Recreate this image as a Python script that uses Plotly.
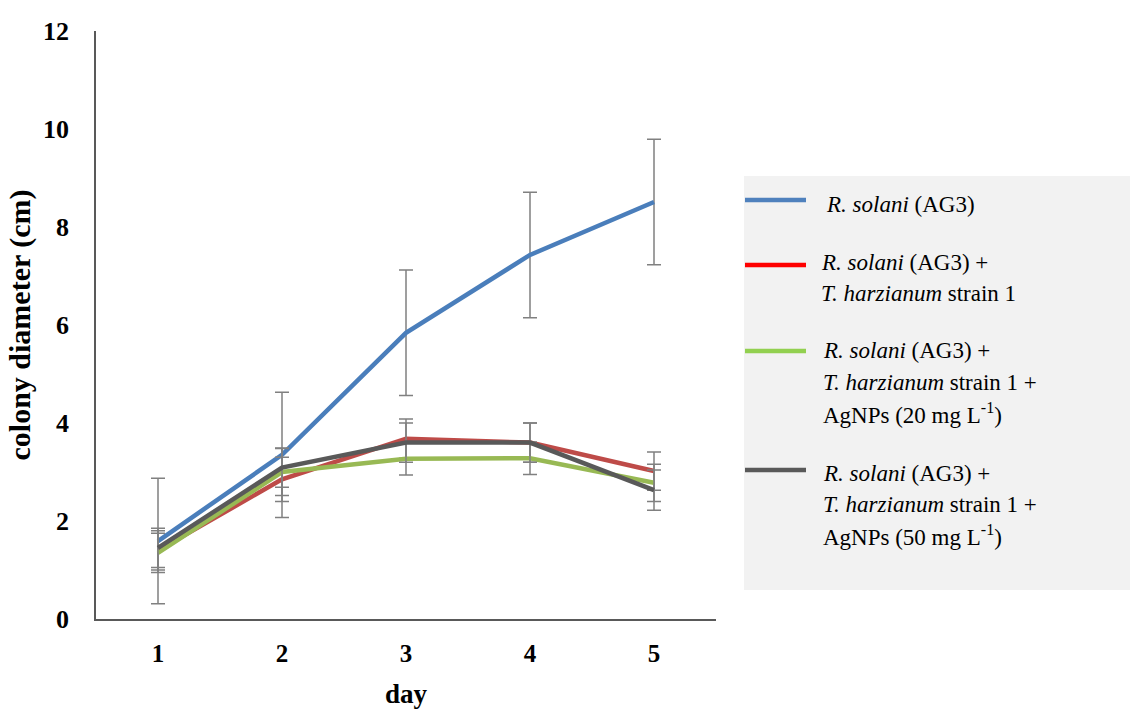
import plotly.graph_objects as go

days = [1, 2, 3, 4, 5]
y_ticks = [0, 2, 4, 6, 8, 10, 12]
rs = [1.59, 3.35, 5.84, 7.43, 8.51]
rs_err = [1.28, 1.28, 1.28, 1.28, 1.28]
rs_th = [1.40, 2.85, 3.68, 3.60, 3.02]
rs_th_err = [0.40, 0.45, 0.40, 0.40, 0.39]
rs_th20 = [1.35, 3.00, 3.27, 3.28, 2.78]
rs_th20_err = [0.40, 0.48, 0.33, 0.33, 0.38]
rs_th50 = [1.45, 3.09, 3.60, 3.60, 2.63]
rs_th50_err = [0.40, 0.40, 0.40, 0.40, 0.41]

plot_colors = ["#4a7ebb", "#be4b48", "#98b954", "#595959"]
legend_colors = ["#4f81bd", "#ff0000", "#92d050", "#595959"]

legend_lines = [
    ["<i>R. solani</i> (AG3)"],
    ["<i>R. solani</i> (AG3) +", "<i>T. harzianum</i> strain 1"],
    ["<i>R. solani</i> (AG3) +", "<i>T. harzianum</i> strain 1 +", "AgNPs (20 mg L<sup>-1</sup>)"],
    ["<i>R. solani</i> (AG3) +", "<i>T. harzianum</i> strain 1 +", "AgNPs (50 mg L<sup>-1</sup>)"],
]

series = [(rs, rs_err), (rs_th, rs_th_err), (rs_th20, rs_th20_err), (rs_th50, rs_th50_err)]

SERIF = "Liberation Serif, Times New Roman, serif"
W, H = 1130, 709
L, R, T, B = 96, 716, 31, 619

def px(x):
    return (x - L) / (R - L)

def py(y):
    return (B - y) / (B - T)

fig = go.Figure()
for (vals, err), col in zip(series, plot_colors):
    fig.add_trace(go.Scatter(
        x=days, y=vals, mode="lines",
        line=dict(color=col, width=4.5),
        error_y=dict(type="data", array=err, visible=True, color="#808080", thickness=1.5, width=7),
        showlegend=False, hoverinfo="skip",
    ))

shapes = [dict(type="rect", xref="paper", yref="paper", x0=px(744), x1=px(1130), y0=py(590), y1=py(176),
               fillcolor="#f2f2f2", line=dict(width=0), layer="below")]
annotations = []
sample_y = [200, 265, 351, 470]
text_y0 = [204, 262, 351, 473]
text_x = [824, 819, 821, 821]
for i in range(4):
    shapes.append(dict(type="line", xref="paper", yref="paper", x0=px(745), x1=px(806),
                       y0=py(sample_y[i]), y1=py(sample_y[i]), line=dict(color=legend_colors[i], width=4.5)))
    for j, t in enumerate(legend_lines[i]):
        annotations.append(dict(xref="paper", yref="paper", x=px(text_x[i]), y=py(text_y0[i] + 31.3 * j),
                                text=t, showarrow=False, xanchor="left", yanchor="middle",
                                font=dict(family=SERIF, size=23, color="#000000")))

fig.update_layout(
    width=W, height=H,
    margin=dict(l=L, r=W - R, t=T, b=H - B, autoexpand=False),
    paper_bgcolor="white", plot_bgcolor="white",
    shapes=shapes, annotations=annotations,
    xaxis=dict(range=[0.5, 5.5], tickvals=days, ticktext=[f"<b>{d}</b>" for d in days],
               showgrid=False, zeroline=False, showline=True, linecolor="#595959", linewidth=1.5,
               automargin=False,
               ticks="", tickfont=dict(family=SERIF, size=25, color="#000000"), ticklabelstandoff=11,
               title=dict(text="<b>day</b>", font=dict(family=SERIF, size=27, color="#000000"), standoff=27)),
    yaxis=dict(range=[0, 12], tickvals=y_ticks, ticktext=[f"<b>{v}</b>" for v in y_ticks],
               showgrid=False, zeroline=False, automargin=False,
               showline=True, linecolor="#595959", linewidth=1.5, ticks="",
               tickfont=dict(family=SERIF, size=26, color="#000000"), ticklabelstandoff=20,
               title=dict(text="<b>colony diameter (cm)</b>", font=dict(family=SERIF, size=30, color="#000000"), standoff=4)),
)

fig.write_html("out.html")
